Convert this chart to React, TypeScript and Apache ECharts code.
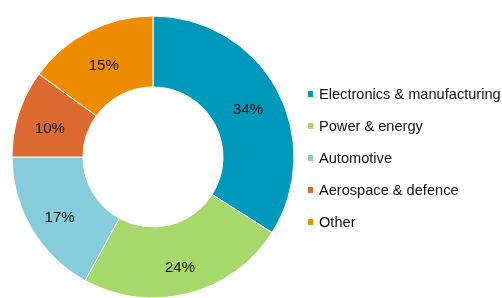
import React, { useEffect, useRef } from "react";
import * as echarts from "echarts";

const categories = [
  "Electronics & manufacturing",
  "Power & energy",
  "Automotive",
  "Aerospace & defence",
  "Other",
];
const values = [34, 24, 17, 10, 15];
const colors = ["#0098BB", "#A7D86B", "#87CCDA", "#DD6B31", "#EE8C00"];

export default function App() {
  const ref = useRef<HTMLDivElement>(null);
  useEffect(() => {
    if (!ref.current) return;
    const chart = echarts.init(ref.current, undefined, { renderer: "svg" });
    chart.setOption({
      animation: false,
      color: colors,
      legend: {
        orient: "vertical",
        left: 306,
        top: 86,
        padding: 0,
        icon: "rect",
        itemWidth: 7,
        itemHeight: 8,
        itemGap: 16,
        selectedMode: false,
        textStyle: {
          fontFamily: "Liberation Sans, Arial, sans-serif",
          fontSize: 14.6,
          lineHeight: 16,
          color: "#111",
        },
        data: categories,
      },
      series: [
        {
          type: "pie",
          center: [153, 157],
          radius: [70, 141],
          startAngle: 90,
          clockwise: true,
          itemStyle: { borderColor: "#fff", borderWidth: 1 },
          label: {
            position: "inside",
            formatter: "{c}%",
            fontFamily: "Liberation Sans, Arial, sans-serif",
            fontSize: 15,
            color: "#111",
          },
          labelLayout: { dy: 4 },
          labelLine: { show: false },
          emphasis: { disabled: true },
          data: categories.map((name, i) => ({ name, value: values[i] })),
        },
      ],
    });
    return () => chart.dispose();
  }, []);
  return <div ref={ref} style={{ width: 502, height: 298, position: "fixed", left: 0, top: 0 }} />;
}
